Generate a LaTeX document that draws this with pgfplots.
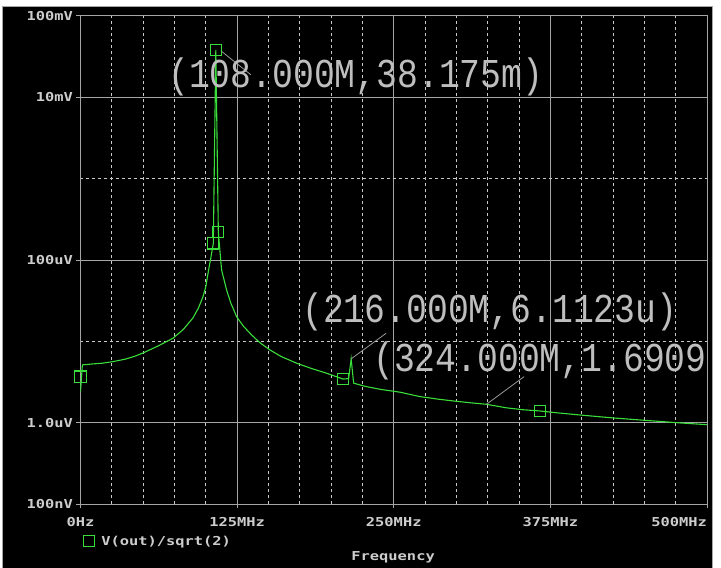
\documentclass[border=0pt]{standalone}
\usepackage{graphicx}
\usepackage{pgfplots}
\usepackage{pgfplotstable}
\pgfplotsset{compat=1.18}
\usepackage{fontspec}
\newfontfamily\scopefont{DejaVu Sans Mono}
\newfontfamily\cursorfont{Liberation Mono}

\definecolor{trace}{RGB}{58,222,58}
\definecolor{gridsolid}{RGB}{165,165,165}
\definecolor{griddash}{RGB}{200,200,200}
\definecolor{labelgray}{RGB}{205,205,205}
\definecolor{cursorgray}{RGB}{190,190,190}

% probe window text and cursor read-out text
\newcommand\lbl[1]{\scalebox{1.25}[1]{\scopefont\bfseries\fontsize{12.3}{12.3}\selectfont #1}}
\newcommand\cur[1]{\scalebox{0.847}[1]{\cursorfont\fontsize{41}{41}\selectfont #1}}

% V(out)/sqrt(2): frequency in MHz, magnitude in uV
\pgfplotstableread{
f v
0 2.40
1.5 5.15
9 5.28
17 5.40
26 5.65
35.5 6.05
43 6.55
50 7.23
62 8.8
74 11.0
82 14.0
89.7 19.4
94 25.5
97.7 35.2
100 47
102 72
104 106
106 160
108 38175
110 221
112.6 75.4
116.6 42.9
120 29.5
124.6 20.1
130 15.4
136.6 12.0
143 9.7
151.2 7.86
160 6.55
172.5 5.40
185 4.62
196.4 4.07
209.6 3.45
214 3.50
216 6.1123
218 3.07
228 2.79
240 2.57
255 2.38
271 2.10
286 1.95
300 1.84
312 1.76
324 1.6909
340 1.53
353 1.45
366.6 1.40
380 1.33
398.5 1.25
425 1.15
452 1.07
478 1.00
500 0.95
}\tracedata

\begin{document}
\begin{tikzpicture}
\useasboundingbox (0pt,0pt) rectangle (721pt,568pt);
\fill[white] (0pt,0pt) rectangle (721pt,568pt);
\fill[black] (2.7pt,0pt) rectangle (712.3pt,561.3pt);
\draw[gray!70, line width=0.8pt] (2.7pt,0pt) -- (2.7pt,561.3pt) -- (712.3pt,561.3pt) -- (712.3pt,0pt);

\begin{axis}[
  at={(80.5pt,63.7pt)}, anchor=south west,
  scale only axis, width=626.5pt, height=488.6pt,
  ymode=log,
  xmin=0, xmax=500, ymin=0.1, ymax=100000,
  xtick={0,125,250,375,500},
  xticklabels={\lbl{0Hz},\lbl{125MHz},\lbl{250MHz},\lbl{375MHz},{}},
  minor xtick={25,50,75,100,150,175,200,225,275,300,325,350,400,425,450,475},
  ytick={0.1,1,100,10000,100000},
  yticklabels={\lbl{100nV},\lbl{1.0uV},\lbl{100uV},\lbl{10mV},\lbl{100mV}},
  minor ytick={10,1000},
  grid=both,
  major grid style={gridsolid, line width=0.8pt},
  minor grid style={griddash, dash pattern=on 3pt off 3pt, line width=0.8pt},
  axis line style={gridsolid, line width=0.8pt},
  tick align=outside, major tick length=4pt, minor tick length=0pt,
  tick style={gridsolid, line width=0.8pt},
  xtick pos=bottom, ytick pos=left,
  tick label style={text=labelgray},
  yticklabel style={inner sep=0pt, xshift=-3.5pt},
  xticklabel style={inner sep=0pt, yshift=-9pt},
  xlabel={\lbl{Frequency}},
  xlabel style={at={(axis description cs:0.499,-0.108)}, anchor=center, text=labelgray, inner sep=0pt},
  legend style={at={(axis description cs:0.004,-0.0757)}, anchor=west, draw=none, fill=none,
    text=labelgray, inner sep=0pt, cells={anchor=west}},
  clip=true,
]
\addplot[trace, line width=1.1pt, mark=none, forget plot] table[x=f,y=v]{\tracedata};
\addplot[only marks, mark=square, mark size=5.6pt, trace, line width=1.1pt]
  coordinates {(0,3.70) (106,160) (108,38175) (110,221) (209.6,3.45) (366.6,1.40)};
\addlegendentry{\hspace{5pt}\lbl{V(out)/sqrt(2)}}

% cursor leader lines
\draw[gray!80, line width=0.8pt] ([shift={(5pt,-1pt)}]axis cs:108,38175) -- ++(30pt,-24pt);
\draw[gray!80, line width=0.8pt] (axis cs:216,6.1123) -- ++(35pt,25.6pt);
\draw[gray!80, line width=0.8pt] (axis cs:324,1.6909) -- ++(37.7pt,27.7pt);
\end{axis}

% cursor read-outs
\node[anchor=base west, inner sep=0pt, text=cursorgray] at (168pt,480pt) {\cur{(108.000M,38.175m)}};
\node[anchor=base west, inner sep=0pt, text=cursorgray] at (302pt,245pt) {\cur{(216.000M,6.1123u)}};
\node[anchor=base west, inner sep=0pt, text=cursorgray] at (373pt,196pt) {\cur{(324.000M,1.6909}};
\node[anchor=north east, inner sep=0pt, text=labelgray] at (707pt,50.7pt) {\lbl{500MHz}};

% window edge
\fill[white] (712.7pt,0pt) rectangle (721pt,568pt);
\draw[gray!70, line width=0.8pt] (712.3pt,0pt) -- (712.3pt,561.3pt);
\end{tikzpicture}
\end{document}
